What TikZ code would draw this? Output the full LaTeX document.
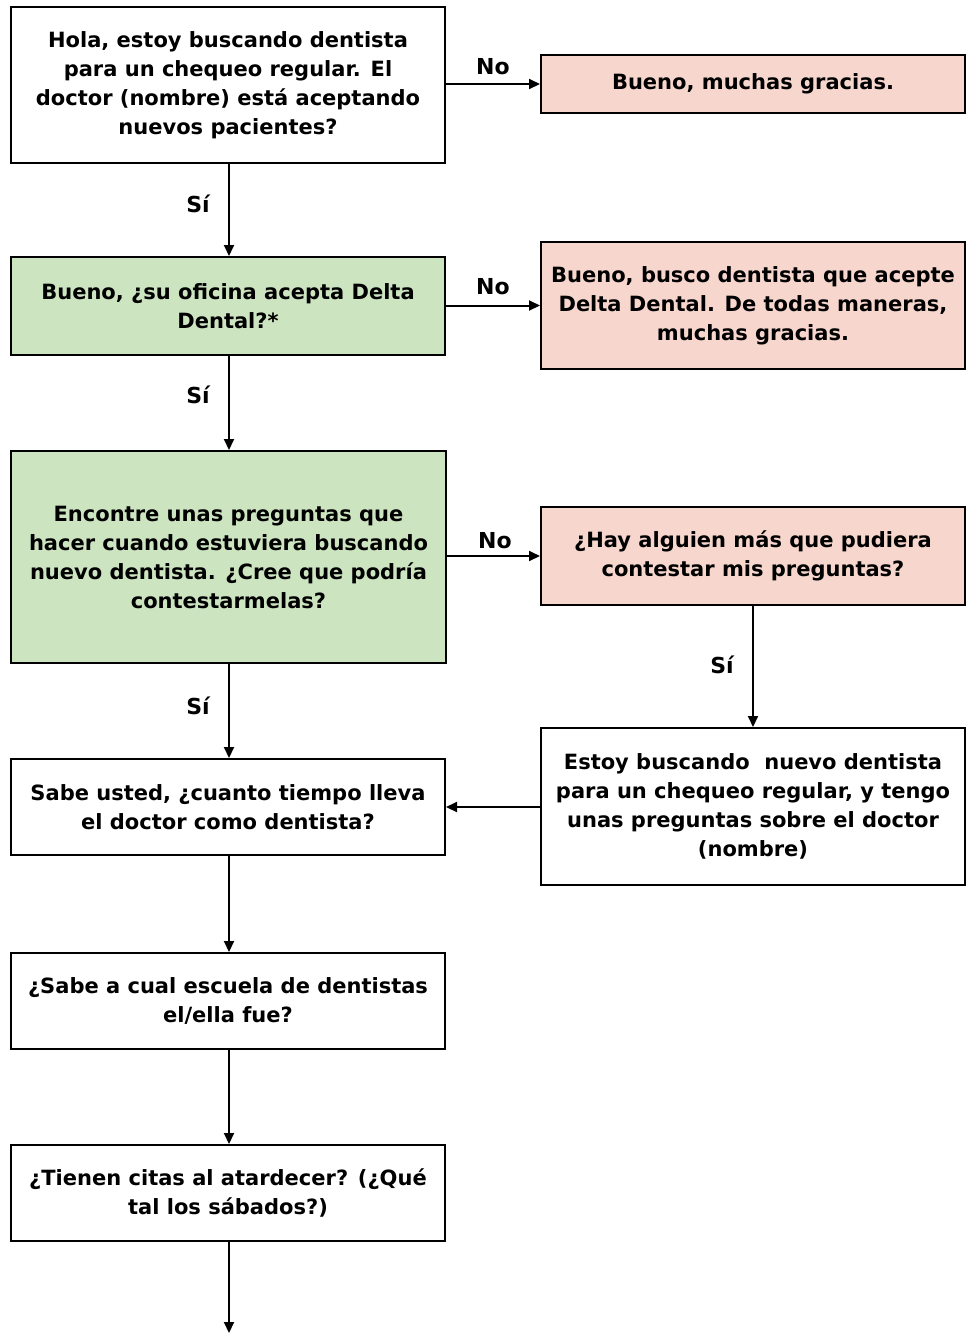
\documentclass[tikz,border=0pt]{standalone}
\usepackage{fontspec}
\setmainfont{DejaVu Sans}
\usetikzlibrary{arrows.meta}
\definecolor{boxgreen}{HTML}{CCE4C0}
\definecolor{boxpink}{HTML}{F6D6CD}
\tikzset{
  box/.style={draw=black, line width=2pt, inner sep=0pt, align=center,
    font=\fontsize{21}{29}\selectfont\bfseries, minimum width=434pt},
  rbox/.style={box, minimum width=424pt},
  conn/.style={line width=2pt, -{Triangle[length=11pt,width=10pt]}},
  lbl/.style={font=\fontsize{22}{25}\selectfont\bfseries, inner sep=0pt}
}
\begin{document}
\begin{tikzpicture}[x=1pt,y=-1pt]
\useasboundingbox (0,0) rectangle (967,1334);
\fill[white] (0,0) rectangle (967,1334);
\node[box, minimum height=156pt] (b1) at (228,85) {Hola, estoy buscando dentista\\para un chequeo regular. El\\doctor (nombre) está aceptando\\nuevos pacientes?};
\node[rbox, fill=boxpink, minimum height=58pt] (r1) at (753,84) {Bueno, muchas gracias.};
\node[box, fill=boxgreen, minimum height=98pt] (b2) at (228,306) {Bueno, ¿su oficina acepta Delta\\Dental?*};
\node[rbox, fill=boxpink, minimum height=127pt] (r2) at (753,305.5) {Bueno, busco dentista que acepte\\Delta Dental. De todas maneras,\\muchas gracias.};
\node[box, fill=boxgreen, minimum width=435pt, minimum height=212pt] (b3) at (228.5,557) {Encontre unas preguntas que\\hacer cuando estuviera buscando\\nuevo dentista. ¿Cree que podría\\contestarmelas?};
\node[rbox, fill=boxpink, minimum height=98pt] (r3) at (753,556) {¿Hay alguien más que pudiera\\contestar mis preguntas?};
\node[box, minimum height=96pt] (b4) at (228,807) {Sabe usted, ¿cuanto tiempo lleva\\el doctor como dentista?};
\node[rbox, minimum height=157pt] (r4) at (753,806.5) {Estoy buscando\ \ nuevo dentista\\para un chequeo regular, y tengo\\unas preguntas sobre el doctor\\(nombre)};
\node[box, minimum height=96pt] (b5) at (228,1001) {¿Sabe a cual escuela de dentistas\\el/ella fue?};
\node[box, minimum height=96pt] (b6) at (228,1193) {¿Tienen citas al atardecer? (¿Qué\\tal los sábados?)};
\coordinate (end) at (229,1333);

\draw[conn] (b1.east |- r1) -- (r1.west);
\draw[conn] (b2.east |- r2) -- (r2.west);
\draw[conn] (b3.east |- r3) -- (r3.west);
\draw[conn] (b1.south -| end) -- (b2.north -| end);
\draw[conn] (b2.south -| end) -- (b3.north -| end);
\draw[conn] (b3.south -| end) -- (b4.north -| end);
\draw[conn] (b4.south -| end) -- (b5.north -| end);
\draw[conn] (b5.south -| end) -- (b6.north -| end);
\draw[conn] (b6.south -| end) -- (end);
\draw[conn] (r3.south) -- (r4.north);
\draw[conn] (r4.west |- b4) -- (b4.east);

\node[lbl] (n1) at (493,67) {No};
\node[lbl] (n2) at (493,287) {No};
\node[lbl] (n3) at (495,541) {No};
\node[lbl] (s1) at (198,204) {Sí};
\node[lbl] (s2) at (198,395) {Sí};
\node[lbl] (s3) at (198,706) {Sí};
\node[lbl] (s4) at (722,665) {Sí};
\end{tikzpicture}
\end{document}
